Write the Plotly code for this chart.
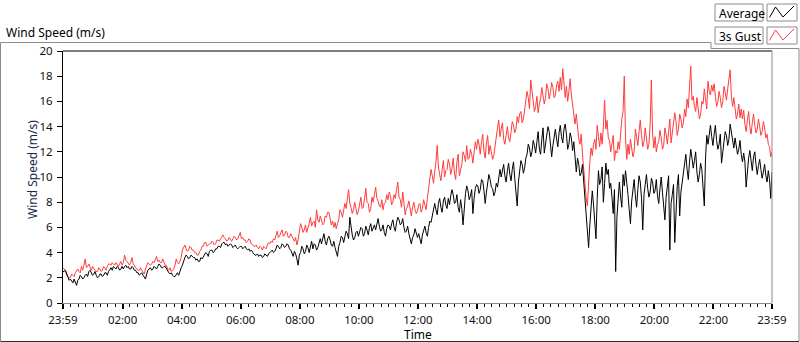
import pandas as pd
import plotly.graph_objects as go

# ---------------- data (2.5-minute steps, one row per hour) ----------------
start_time = "2024-01-01 23:59"
step_seconds = 150

average = [
    2.5, 2.5, 2.6, 2.3, 2.0, 1.8, 1.9, 1.7, 1.6, 1.9, 1.7, 1.4, 1.8, 1.9, 2.2, 2.1, 1.9, 2.0, 2.2, 2.3, 2.1, 2.5, 2.6, 2.4,
    2.2, 2.3, 2.5, 2.2, 2.0, 2.1, 2.3, 2.3, 2.1, 2.2, 2.4, 2.4, 2.2, 2.5, 2.7, 2.8, 2.6, 2.9, 2.8, 2.7, 2.9, 2.8, 2.6, 2.7,
    2.9, 2.7, 2.9, 3.0, 2.8, 2.9, 2.7, 2.7, 2.9, 2.8, 2.6, 2.6, 2.4, 2.4, 2.2, 2.3, 2.4, 2.2, 2.0, 1.9, 2.3, 2.6, 2.7, 2.8,
    2.6, 2.7, 2.9, 2.8, 2.7, 2.9, 3.1, 3.0, 2.8, 2.8, 2.9, 2.9, 2.7, 2.6, 2.4, 2.3, 2.4, 2.2, 2.1, 2.1, 2.3, 2.4, 2.2, 2.6,
    2.8, 3.0, 3.4, 3.6, 3.8, 3.7, 3.5, 3.6, 3.8, 3.7, 3.6, 3.6, 3.4, 3.5, 3.3, 3.3, 3.6, 3.5, 3.7, 3.8, 4.0, 3.9, 3.7, 4.1,
    4.2, 4.2, 4.0, 4.1, 4.3, 4.3, 4.5, 4.5, 4.4, 4.7, 4.8, 4.8, 4.6, 4.7, 4.5, 4.6, 4.7, 4.6, 4.4, 4.5, 4.6, 4.4, 4.3, 4.4,
    4.5, 4.5, 4.3, 4.4, 4.5, 4.3, 4.2, 4.3, 4.1, 4.2, 4.0, 3.9, 3.8, 3.8, 3.9, 3.7, 3.8, 3.8, 3.6, 3.7, 3.9, 3.8, 3.7, 3.9,
    4.0, 4.1, 4.2, 4.0, 4.1, 4.3, 4.6, 4.5, 4.3, 4.4, 4.7, 4.6, 4.4, 4.5, 4.7, 4.6, 4.3, 4.2, 4.0, 3.7, 4.1, 3.9, 3.5, 3.0,
    3.8, 4.0, 4.5, 4.3, 3.9, 4.1, 4.6, 4.4, 4.0, 4.5, 4.9, 4.3, 4.7, 4.6, 4.2, 4.4, 4.9, 5.1, 4.7, 5.2, 5.5, 4.9, 4.6, 5.1,
    5.3, 5.0, 4.6, 4.5, 4.9, 4.4, 4.1, 3.7, 4.5, 4.8, 5.3, 5.2, 4.8, 5.3, 5.7, 5.5, 5.1, 6.8, 5.8, 5.4, 5.0, 5.2, 5.6, 5.7,
    5.3, 5.6, 6.0, 5.9, 5.3, 5.5, 6.1, 5.8, 5.4, 6.0, 6.3, 5.7, 6.0, 6.2, 5.8, 6.4, 6.7, 6.1, 5.7, 5.8, 6.2, 5.6, 5.3, 5.9,
    6.2, 6.1, 5.8, 6.3, 6.6, 6.0, 5.7, 6.4, 6.8, 6.6, 6.2, 6.3, 6.7, 6.0, 5.6, 5.7, 6.1, 5.5, 5.0, 4.7, 5.2, 5.4, 5.9, 5.6,
    5.2, 5.5, 5.1, 4.7, 5.4, 5.8, 6.1, 5.6, 5.3, 6.0, 6.5, 6.4, 7.0, 7.6, 7.9, 7.4, 7.0, 7.9, 8.3, 7.6, 7.2, 8.1, 8.4, 7.8,
    7.5, 8.3, 7.8, 8.5, 9.0, 8.6, 7.9, 8.0, 8.6, 7.6, 7.2, 8.2, 7.5, 6.2, 7.8, 8.7, 9.3, 8.9, 8.2, 8.5, 9.0, 7.1, 8.3, 9.1,
    9.4, 9.3, 8.7, 9.0, 9.8, 9.7, 8.9, 7.9, 8.8, 9.6, 10.2, 9.8, 9.2, 9.1, 8.5, 8.8, 9.5, 9.2, 9.9, 10.6, 10.0, 10.4, 11.0, 10.1,
    9.6, 10.5, 11.1, 10.2, 9.7, 10.6, 11.2, 9.9, 9.0, 7.7, 9.6, 10.4, 11.3, 11.0, 10.3, 10.7, 11.5, 11.8, 12.6, 12.3, 11.6, 12.0, 12.9, 12.5,
    11.9, 12.8, 13.6, 12.2, 11.8, 13.0, 13.9, 11.9, 12.6, 13.4, 14.0, 13.6, 12.8, 11.6, 12.5, 13.1, 13.8, 13.0, 12.4, 13.5, 14.1, 13.2, 12.7, 13.8,
    14.2, 13.4, 12.2, 12.6, 13.5, 13.1, 12.1, 12.8, 11.6, 10.4, 11.5, 11.0, 10.1, 10.3, 11.0, 9.8, 8.5, 6.8, 5.6, 4.4, 6.2, 7.6, 8.9, 7.8,
    6.5, 5.1, 8.3, 10.5, 9.4, 9.8, 10.8, 8.0, 9.5, 11.1, 10.2, 10.6, 9.1, 9.5, 8.4, 7.1, 9.0, 2.5, 6.8, 8.2, 9.6, 8.4, 7.6, 10.2,
    9.3, 10.5, 9.2, 8.6, 7.4, 6.3, 8.1, 8.9, 9.8, 8.5, 7.6, 9.0, 10.1, 9.6, 8.3, 5.8, 8.6, 9.4, 10.2, 9.1, 8.4, 8.8, 9.9, 9.6,
    8.7, 8.9, 9.8, 8.5, 7.9, 9.1, 10.0, 8.8, 7.5, 6.6, 8.4, 9.2, 10.1, 4.2, 7.9, 8.6, 9.4, 4.8, 8.0, 9.3, 10.2, 6.9, 8.8, 9.5,
    10.4, 10.9, 11.8, 10.6, 9.8, 11.2, 12.2, 11.5, 10.7, 11.3, 12.0, 10.4, 9.6, 10.2, 11.1, 10.6, 9.3, 7.7, 11.5, 13.3, 12.6, 13.6, 14.1, 13.2,
    12.5, 13.4, 14.1, 12.9, 12.2, 12.6, 13.4, 11.1, 12.3, 12.8, 13.6, 13.3, 12.5, 13.0, 14.2, 13.5, 12.7, 12.3, 13.1, 12.6, 11.8, 12.2, 12.9, 11.8,
    11.2, 11.9, 11.2, 9.2, 10.8, 11.5, 12.1, 11.2, 10.5, 11.6, 12.0, 11.0, 10.2, 10.9, 11.4, 10.6, 9.9, 10.4, 11.0, 10.1, 9.6, 10.5, 9.8, 8.3,
    10.4,
]

gust_3s = [
    2.8, 2.7, 2.5, 2.2, 2.1, 2.0, 2.0, 2.3, 2.2, 2.1, 2.4, 2.6, 2.7, 2.5, 2.4, 2.9, 2.6, 3.0, 3.5, 2.8, 2.9, 3.1, 2.8, 2.6,
    2.9, 2.7, 2.6, 2.5, 2.5, 2.8, 2.7, 2.5, 2.6, 2.9, 2.7, 2.6, 2.9, 3.1, 3.1, 3.0, 3.2, 3.1, 3.0, 3.2, 3.0, 2.9, 3.1, 3.3,
    3.0, 3.2, 3.8, 3.4, 3.3, 3.1, 3.0, 3.2, 3.6, 3.1, 3.0, 2.8, 2.7, 2.6, 2.6, 2.8, 2.6, 2.4, 2.3, 2.7, 3.0, 3.2, 3.1, 3.0,
    3.1, 3.3, 3.2, 3.5, 3.7, 3.3, 3.4, 3.2, 3.2, 3.5, 3.3, 3.0, 3.0, 2.7, 2.6, 2.8, 2.5, 2.6, 2.7, 3.0, 3.5, 3.2, 3.1, 3.3,
    3.6, 4.2, 4.4, 4.6, 4.3, 4.1, 4.2, 4.5, 4.4, 4.2, 4.2, 4.0, 4.0, 3.8, 3.8, 4.1, 4.2, 4.5, 4.5, 4.8, 4.8, 4.5, 4.6, 4.7,
    4.7, 4.9, 4.8, 4.6, 4.7, 5.0, 5.0, 4.9, 5.1, 5.3, 5.4, 5.2, 5.1, 4.9, 5.0, 5.2, 5.0, 4.9, 5.1, 5.3, 5.2, 5.0, 5.1, 5.3,
    5.6, 5.1, 5.2, 5.0, 5.0, 4.8, 4.9, 5.1, 5.0, 4.7, 4.6, 4.5, 4.5, 4.6, 4.4, 4.3, 4.5, 4.4, 4.2, 4.5, 4.4, 4.3, 4.6, 4.8,
    4.7, 4.9, 4.8, 5.1, 5.0, 5.4, 5.7, 5.2, 5.3, 5.6, 5.8, 5.3, 5.4, 5.7, 5.6, 5.2, 5.2, 5.5, 5.3, 5.0, 4.9, 5.2, 4.6, 5.0,
    5.7, 6.3, 6.0, 5.6, 5.8, 6.2, 5.6, 5.9, 6.3, 6.8, 6.1, 6.4, 6.5, 6.0, 7.4, 6.6, 6.4, 6.9, 6.6, 6.2, 6.3, 6.9, 6.8, 7.2,
    7.2, 6.6, 6.2, 6.5, 6.0, 6.4, 5.9, 6.3, 6.6, 7.4, 7.2, 6.8, 7.3, 7.9, 7.5, 8.2, 9.0, 7.9, 7.6, 7.1, 7.4, 8.0, 7.5, 7.0,
    7.3, 7.8, 8.4, 7.5, 7.6, 8.3, 9.1, 8.0, 7.9, 7.2, 7.5, 8.4, 8.0, 8.6, 9.2, 8.3, 8.1, 7.7, 7.6, 8.2, 7.4, 7.9, 8.0, 8.6,
    8.2, 8.8, 8.5, 7.8, 8.0, 8.6, 8.3, 9.0, 9.6, 8.4, 8.2, 7.6, 8.8, 7.9, 7.0, 7.5, 7.7, 8.1, 7.3, 6.9, 7.6, 8.0, 7.4, 7.1,
    7.3, 7.8, 7.9, 7.2, 7.5, 8.2, 7.8, 7.4, 8.3, 9.0, 9.6, 10.6, 10.1, 9.5, 10.4, 11.2, 12.5, 10.8, 10.2, 9.7, 10.6, 11.3, 10.0, 10.5,
    10.6, 11.4, 11.0, 10.2, 10.7, 11.5, 10.3, 9.8, 11.2, 11.8, 10.1, 10.6, 11.0, 12.0, 11.7, 11.2, 12.5, 11.4, 11.5, 12.2, 11.8, 11.1, 12.3, 12.8,
    12.2, 13.0, 12.6, 11.8, 12.8, 13.4, 12.0, 11.5, 12.7, 13.3, 11.8, 12.5, 12.0, 11.4, 11.7, 12.6, 13.1, 13.9, 14.5, 13.2, 13.8, 14.3, 13.0, 12.6,
    13.3, 14.0, 13.1, 12.8, 13.6, 14.4, 14.1, 13.5, 13.8, 14.8, 14.3, 15.0, 15.2, 14.3, 14.6, 15.5, 15.9, 16.8, 16.3, 15.4, 17.7, 16.5, 16.0, 15.2,
    15.6, 16.4, 15.1, 15.8, 16.2, 17.1, 16.6, 15.8, 16.3, 17.4, 17.0, 16.2, 16.7, 17.5, 17.1, 16.3, 16.5, 17.3, 17.6, 16.8, 17.9, 16.9, 18.6, 17.2,
    16.3, 17.2, 16.0, 16.8, 17.8, 16.5, 15.6, 14.8, 14.2, 15.0, 13.9, 13.0, 12.6, 13.4, 11.8, 10.6, 9.3, 8.4, 7.7, 9.8, 11.2, 12.3, 11.7, 12.6,
    13.0, 12.2, 14.1, 13.2, 12.4, 13.5, 12.6, 14.0, 16.1, 13.8, 14.5, 13.1, 12.9, 12.0, 12.5, 13.3, 11.3, 12.1, 11.9, 12.8, 12.2, 13.7, 14.6, 15.2,
    18.0, 13.1, 11.4, 12.6, 11.8, 13.0, 12.3, 11.6, 12.0, 13.8, 13.2, 12.5, 13.6, 14.5, 13.3, 12.4, 12.8, 13.9, 13.1, 12.2, 12.6, 14.1, 17.7, 13.4,
    12.3, 13.2, 12.0, 12.6, 12.8, 13.7, 13.1, 12.2, 12.5, 13.9, 13.4, 12.6, 13.6, 14.6, 12.7, 13.5, 14.0, 15.1, 14.4, 13.3, 13.8, 15.0, 14.6, 13.9,
    14.3, 15.4, 14.8, 16.2, 15.5, 17.0, 18.8, 16.1, 16.4, 15.6, 15.2, 16.3, 15.6, 14.6, 15.0, 16.0, 15.8, 17.0, 16.2, 15.4, 17.6, 16.8, 16.5, 17.3,
    16.8, 17.4, 16.4, 15.6, 15.9, 16.8, 16.3, 15.5, 16.0, 17.2, 16.7, 16.1, 17.0, 17.8, 18.5, 16.4, 15.6, 16.3, 15.2, 14.6, 15.0, 15.8, 14.7, 15.4,
    14.6, 15.3, 14.2, 13.6, 14.5, 15.2, 14.0, 13.4, 14.3, 15.0, 14.1, 13.5, 13.8, 14.6, 14.0, 13.3, 13.6, 14.4, 13.9, 13.1, 13.4, 12.6, 12.4, 11.6,
    12.0,
]

tick_times = [
    "2024-01-01 23:59", "2024-01-02 02:00", "2024-01-02 04:00", "2024-01-02 06:00",
    "2024-01-02 08:00", "2024-01-02 10:00", "2024-01-02 12:00", "2024-01-02 14:00",
    "2024-01-02 16:00", "2024-01-02 18:00", "2024-01-02 20:00", "2024-01-02 22:00",
    "2024-01-02 23:59",
]
tick_labels = ["23:59", "02:00", "04:00", "06:00", "08:00", "10:00", "12:00",
               "14:00", "16:00", "18:00", "20:00", "22:00", "23:59"]
y_ticks = [0, 2, 4, 6, 8, 10, 12, 14, 16, 18, 20]
series_names = ["Average", "3s Gust"]
x_title = "Time"
y_title = "Wind Speed (m/s)"

# ---------------- figure ----------------
times = pd.date_range(start_time, periods=len(average), freq=f"{step_seconds}s")
minor_ticks = pd.date_range("2024-01-02 00:15", "2024-01-02 23:45", freq="15min")

W, H = 800, 342
L, R, T, B = 63, 772, 51, 303
FONT = "Noto Sans"


def px(x):
    return (x - L) / (R - L)


def py(y):
    return (B - y) / (B - T)


fig = go.Figure()
fig.add_trace(go.Scatter(x=times, y=gust_3s, mode="lines", name=series_names[1],
                         line=dict(color="#ff3c3c", width=1)))
fig.add_trace(go.Scatter(x=times, y=average, mode="lines", name=series_names[0],
                         line=dict(color="#000000", width=1)))

fig.update_layout(
    width=W, height=H,
    margin=dict(l=L, r=W - R, t=T, b=H - B, pad=0, autoexpand=False),
    paper_bgcolor="white", plot_bgcolor="white",
    font=dict(family=FONT, size=12, color="#000000"),
    showlegend=False,
)

fig.update_xaxes(
    automargin=False,
    range=[tick_times[0], tick_times[-1]],
    tickmode="array", tickvals=tick_times, ticktext=tick_labels,
    ticks="outside", ticklen=5, tickwidth=2, tickcolor="#000000",
    ticklabelstandoff=1,
    tickfont=dict(family=FONT, size=11.5, color="#101010"),
    showline=True, linecolor="#8c8c8c", linewidth=1,
    showgrid=False, zeroline=False,
    minor=dict(tickmode="array", tickvals=list(minor_ticks), ticks="outside",
               ticklen=3, tickwidth=1, tickcolor="#000000", showgrid=False),
)
fig.update_yaxes(
    automargin=False,
    range=[0, 20], tickmode="array", tickvals=y_ticks,
    ticks="outside", ticklen=5, tickwidth=1, tickcolor="#000000",
    ticklabelstandoff=2,
    tickfont=dict(family=FONT, size=11.5, color="#101010"),
    showline=True, linecolor="#000000", linewidth=1,
    showgrid=False, zeroline=False,
)

# axis names
fig.add_annotation(xref="paper", yref="paper", x=px(32), y=py(170), text=y_title,
                   textangle=-90, showarrow=False, xanchor="center", yanchor="middle",
                   font=dict(family=FONT, size=12, color="#1a2650"))
fig.add_annotation(xref="paper", yref="paper", x=px(418), y=py(334), text=x_title,
                   showarrow=False, xanchor="center", yanchor="middle",
                   font=dict(family=FONT, size=12, color="#000000"))
# chart label
fig.add_annotation(xref="paper", yref="paper", x=px(4), y=py(32), text=y_title,
                   showarrow=False, xanchor="left", yanchor="middle",
                   font=dict(family=FONT, size=12, color="#000000"))

shapes = []


def seg(x0, y0, x1, y1, color, w=1):
    shapes.append(dict(type="line", xref="paper", yref="paper",
                       x0=px(x0), y0=py(y0), x1=px(x1), y1=py(y1),
                       line=dict(color=color, width=w), layer="above"))


# outer panel frame
seg(0.5, 42.5, 711, 42.5, "#8c8c8c")
seg(711, 42.5, 711, 48.5, "#8c8c8c")
seg(711, 48.5, 799, 48.5, "#8c8c8c")
seg(0.5, 42.5, 0.5, 341.5, "#8c8c8c")
seg(799, 48.5, 799, 341.5, "#8c8c8c")
seg(0.5, 341.5, 799, 341.5, "#303030")
# plot area top and right edges
seg(L, T, R, T, "#000000")
seg(R, T, R, B, "#8c8c8c")

# legend boxes
legend_rows = [(4, 21, series_names[0], "#000000"), (27, 44, series_names[1], "#ff3c3c")]
for y0, y1, name, col in legend_rows:
    shapes.append(dict(type="rect", xref="paper", yref="paper",
                       x0=px(715), x1=px(763), y0=py(y1), y1=py(y0),
                       line=dict(color="#8c8c8c", width=1), fillcolor="white"))
    shapes.append(dict(type="rect", xref="paper", yref="paper",
                       x0=px(767), x1=px(797), y0=py(y1), y1=py(y0),
                       line=dict(color="#8c8c8c", width=1), fillcolor="white"))
    zig = [(769.5, y1 - 3.5), (775.5, y0 + 3), (783, y1 - 4), (794, y0 + 2)]
    path = "M " + " L ".join(f"{px(a)},{py(b)}" for a, b in zig)
    shapes.append(dict(type="path", xref="paper", yref="paper", path=path,
                       line=dict(color=col, width=1)))
    fig.add_annotation(xref="paper", yref="paper", x=px(717), y=py((y0 + y1) / 2 + 0.5),
                       text=name, showarrow=False, xanchor="left", yanchor="middle",
                       font=dict(family=FONT, size=12, color="#000000"))

fig.update_layout(shapes=shapes)

fig.write_html("out.html", config={"displayModeBar": False},
               post_script="document.body.style.margin='0';document.body.style.overflow='hidden';")
